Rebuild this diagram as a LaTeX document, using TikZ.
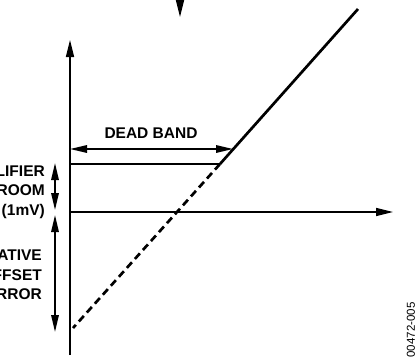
\documentclass[tikz,border=0pt]{standalone}
\usepackage{fontspec}
\setmainfont{Liberation Sans}
\usetikzlibrary{arrows.meta}

\begin{document}
\begin{tikzpicture}[x=1pt, y=-1pt,
    every node/.style={font=\bfseries\fontsize{15.5}{19.5}\selectfont, inner sep=0pt},
    axis/.style={line width=1.6pt, -{Triangle[length=17pt,width=8pt]}},
    span/.style={line width=1.6pt, {Triangle[length=17pt,width=7.5pt]}-{Triangle[length=17pt,width=7.5pt]}}]
  \useasboundingbox (0,0) rectangle (416,360);
  \clip (0,0) rectangle (416,360);
  % axes
  \coordinate (org) at (70,212);
  \coordinate (ytop) at (70,40);
  \coordinate (ybot) at (70,355);
  \coordinate (xend) at (393,212);
  \draw[axis] (ybot) -- (ytop);
  \draw[axis] (org) -- (xend);
  % input arrow, top
  \coordinate (in0) at (180,-5);
  \coordinate (in1) at (180,17);
  \draw[axis] (in0) -- (in1);
  % transfer line, solid above the knee, dashed below
  \coordinate (knee) at (220,164);
  \coordinate (hi) at (358,9);
  \coordinate (lo) at (73,328);
  \draw[line width=2.7pt] (knee) -- (hi);
  \draw[line width=2.7pt, dash pattern=on 7.5pt off 4.5pt] (knee) -- (lo);
  % headroom level
  \coordinate (hl) at (70,164);
  \draw[line width=1.6pt] (hl) -- (knee);
  % dead band
  \coordinate (db0) at (70,149);
  \coordinate (db1) at (233,149);
  \draw[span] (db0) -- (db1);
  \node (dblabel) at (151,133) {DEAD BAND};
  % left spans
  \coordinate (hr0) at (55,163);
  \coordinate (hr1) at (55,210);
  \coordinate (oe0) at (55,215);
  \coordinate (oe1) at (55,332);
  \draw[span] (hr0) -- (hr1);
  \draw[span] (oe0) -- (oe1);
  \node[anchor=east, align=right] (hrlabel) at (45,192) {AMPLIFIER\\HEADROOM\\(1mV)};
  \node[anchor=east, align=right] (oelabel) at (42,275) {NEGATIVE\\OFFSET\\ERROR};
  % figure number
  \node[rotate=90, font=\fontsize{11.5}{11.5}\selectfont] (fig) at (411,330) {00472-005};
\end{tikzpicture}
\end{document}
